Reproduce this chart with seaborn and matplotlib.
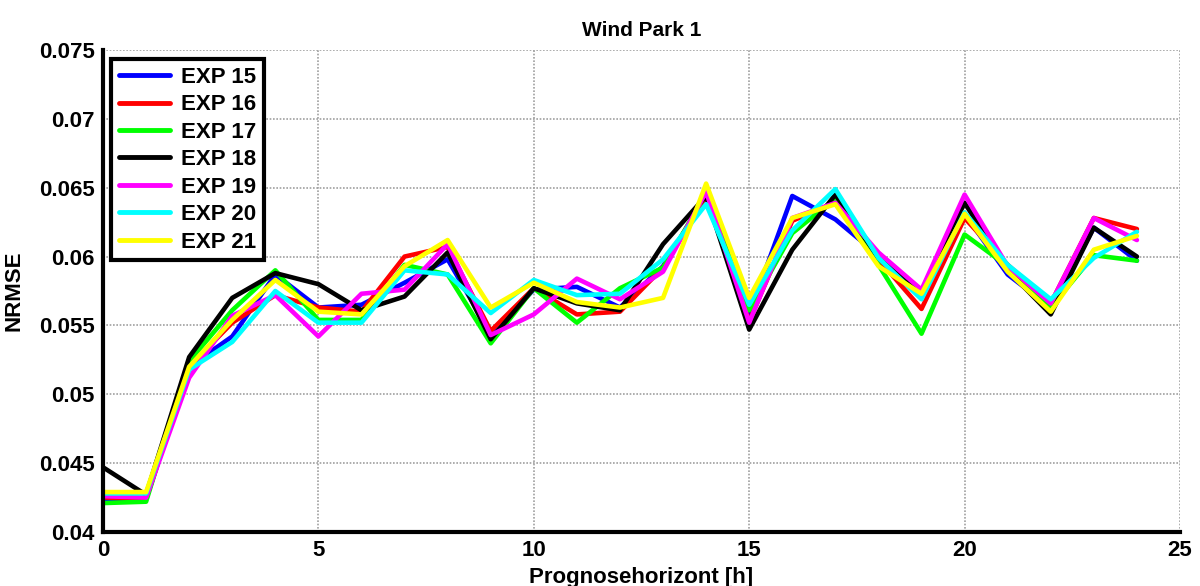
import numpy as np
import pandas as pd
import matplotlib
matplotlib.use("Agg")
import matplotlib.pyplot as plt
from matplotlib.ticker import FormatStrFormatter
import seaborn as sns

# Data (NRMSE per forecast horizon)
hours = list(range(25))
experiments = ["EXP 15", "EXP 16", "EXP 17", "EXP 18", "EXP 19", "EXP 20", "EXP 21"]
line_colors = ["#0000ff", "#ff0000", "#00ff00", "#000000", "#ff00ff", "#00ffff", "#ffff00"]

exp15 = [0.0424, 0.0424, 0.0520, 0.0542, 0.0587, 0.0563, 0.0565, 0.0581, 0.0598, 0.0544,
         0.0576, 0.0578, 0.0563, 0.0593, 0.0644, 0.0558, 0.0644, 0.0627, 0.0601, 0.0575,
         0.0631, 0.0587, 0.0563, 0.0621, 0.0597]
exp16 = [0.0425, 0.0424, 0.0520, 0.0552, 0.0572, 0.0563, 0.0560, 0.0600, 0.0607, 0.0546,
         0.0577, 0.0558, 0.0560, 0.0592, 0.0644, 0.0553, 0.0626, 0.0639, 0.0598, 0.0562,
         0.0628, 0.0594, 0.0566, 0.0628, 0.0620]
exp17 = [0.0421, 0.0422, 0.0524, 0.0561, 0.0590, 0.0554, 0.0554, 0.0594, 0.0587, 0.0537,
         0.0577, 0.0552, 0.0577, 0.0592, 0.0646, 0.0561, 0.0617, 0.0642, 0.0594, 0.0544,
         0.0616, 0.0593, 0.0563, 0.0601, 0.0597]
exp18 = [0.0447, 0.0427, 0.0527, 0.0570, 0.0588, 0.0580, 0.0561, 0.0571, 0.0603, 0.0540,
         0.0577, 0.0566, 0.0561, 0.0609, 0.0644, 0.0547, 0.0605, 0.0645, 0.0599, 0.0575,
         0.0639, 0.0590, 0.0558, 0.0621, 0.0600]
exp19 = [0.0426, 0.0425, 0.0512, 0.0557, 0.0572, 0.0542, 0.0573, 0.0576, 0.0609, 0.0543,
         0.0558, 0.0584, 0.0569, 0.0589, 0.0647, 0.0552, 0.0628, 0.0639, 0.0603, 0.0576,
         0.0645, 0.0593, 0.0566, 0.0628, 0.0612]
exp20 = [0.0428, 0.0428, 0.0518, 0.0538, 0.0575, 0.0552, 0.0552, 0.0590, 0.0587, 0.0559,
         0.0583, 0.0572, 0.0573, 0.0598, 0.0638, 0.0565, 0.0619, 0.0649, 0.0599, 0.0569,
         0.0632, 0.0594, 0.0569, 0.0599, 0.0618]
exp21 = [0.0429, 0.0429, 0.0520, 0.0554, 0.0583, 0.0560, 0.0558, 0.0593, 0.0612, 0.0563,
         0.0581, 0.0567, 0.0563, 0.0570, 0.0653, 0.0570, 0.0628, 0.0638, 0.0593, 0.0573,
         0.0631, 0.0589, 0.0560, 0.0605, 0.0615]

x_ticks = [0, 5, 10, 15, 20, 25]
y_ticks = [0.04, 0.045, 0.05, 0.055, 0.06, 0.065, 0.07, 0.075]

#Long-form table for seaborn
series = [exp15, exp16, exp17, exp18, exp19, exp20, exp21]
df = pd.concat([pd.DataFrame({"h": hours, "NRMSE": vals, "exp": name})
                for name, vals in zip(experiments, series)], ignore_index=True)

sns.set_style("white")
plt.rcParams["font.family"] = ["Liberation Sans", "DejaVu Sans"]
plt.rcParams["font.weight"] = "bold"
plt.rcParams["text.color"] = "black"
plt.rcParams["axes.labelcolor"] = "black"

fig = plt.figure(figsize=(12, 5.86), dpi=100)
ax = fig.add_axes([103/1200, 54/586, 1077/1200, 482/586])

sns.lineplot(data=df, x="h", y="NRMSE", hue="exp", hue_order=experiments,
             palette=line_colors, linewidth=3.3, ax=ax)

ax.set_xlim(0, 25)
ax.set_ylim(0.04, 0.075)
ax.set_xticks(x_ticks)
ax.set_yticks(y_ticks)
ax.yaxis.set_major_formatter(FormatStrFormatter("%g"))

ax.grid(True, color="#a0a0a0", linestyle=(0, (1, 1)), linewidth=1.2)
ax.set_axisbelow(True)
for side in ["top", "right"]:
    ax.spines[side].set_visible(False)
for side in ["left", "bottom"]:
    ax.spines[side].set_linewidth(3)
    ax.spines[side].set_color("black")

ax.tick_params(direction="in", length=8, width=3, labelsize=16, pad=6,
               colors="black", labelcolor="black")
for lbl in ax.get_xticklabels() + ax.get_yticklabels():
    lbl.set_fontweight("bold")

ax.set_title("Wind Park 1", fontsize=15, fontweight="bold", pad=10, color="black")
ax.set_xlabel("Prognosehorizont [h]", fontsize=16, fontweight="bold", labelpad=4)
ax.set_ylabel("NRMSE", fontsize=16, fontweight="bold", labelpad=10)

leg = ax.legend(loc="upper left", bbox_to_anchor=(0.0074, 0.981), borderaxespad=0,
                fancybox=False, framealpha=1, edgecolor="black",
                prop={"size": 16, "weight": "bold"}, handlelength=2.3,
                labelspacing=0.29, borderpad=0.35, handletextpad=0.5)
leg.get_frame().set_linewidth(3)
for line in leg.get_lines():
    line.set_linewidth(3.5)
for txt in leg.get_texts():
    txt.set_color("black")

fig.savefig("out.png", dpi=100)
